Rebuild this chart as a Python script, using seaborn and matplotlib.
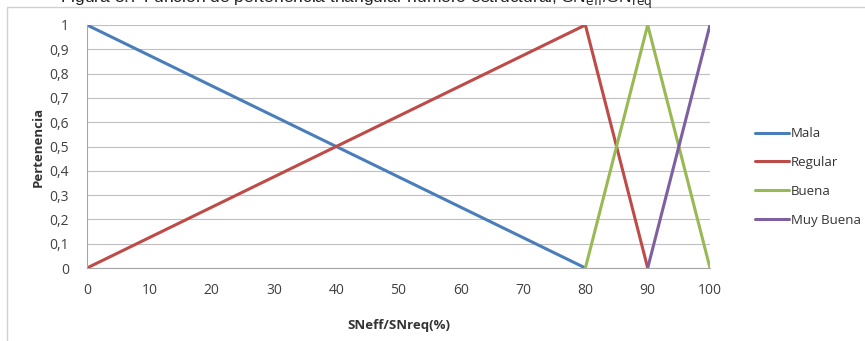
import matplotlib
matplotlib.use("Agg")
import matplotlib.pyplot as plt
from matplotlib.patches import Rectangle
import seaborn as sns
import pandas as pd

# Membership functions (triangular) for SNeff/SNreq
mala_x = [0, 80]
mala_y = [1, 0]
regular_x = [0, 80, 90]
regular_y = [0, 1, 0]
buena_x = [80, 90, 100]
buena_y = [0, 1, 0]
muy_buena_x = [90, 100]
muy_buena_y = [0, 1]

series_names = ["Mala", "Regular", "Buena", "Muy Buena"]
series_colors = ["#4A7EBB", "#BE4B48", "#98B954", "#7D60A0"]

x_ticks = [0, 10, 20, 30, 40, 50, 60, 70, 80, 90, 100]
y_ticks = [0, 0.1, 0.2, 0.3, 0.4, 0.5, 0.6, 0.7, 0.8, 0.9, 1.0]
y_tick_labels = ["0", "0,1", "0,2", "0,3", "0,4", "0,5", "0,6", "0,7", "0,8", "0,9", "1"]

frames = []
for name, xs, ys in zip(series_names,
                        [mala_x, regular_x, buena_x, muy_buena_x],
                        [mala_y, regular_y, buena_y, muy_buena_y]):
    frames.append(pd.DataFrame({"x": xs, "y": ys, "serie": name}))
df = pd.concat(frames, ignore_index=True)

sns.set_theme(style="white")
plt.rcParams["font.family"] = ["Open Sans", "DejaVu Sans"]

W, H = 865, 341
fig = plt.figure(figsize=(W / 100, H / 100), dpi=100)
fig.patch.set_facecolor("white")

# chart area border
fig.add_artist(Rectangle((7 / W, -0.02), 1.0, 1 - 7 / H + 0.02,
                         transform=fig.transFigure, fill=False,
                         edgecolor="#D0D0D0", linewidth=1.0))

# caption above the chart (runs off the top edge)
fig.text(652 / W, 1 - 3 / H,
         "Figura 3.7 Función de pertenencia triangular número estructural, SN$_{\\mathrm{eff}}$/SN$_{\\mathrm{req}}$",
         ha="right", va="baseline", fontsize=12.5, color="#222222",
         family=["Liberation Sans", "DejaVu Sans"])

ax = fig.add_axes([87 / W, 1 - 268 / H, (710 - 87) / W, (268 - 25) / H])
sns.lineplot(data=df, x="x", y="y", hue="serie", hue_order=series_names,
             palette=series_colors, linewidth=2.2, sort=False,
             estimator=None, ax=ax)

ax.set_xlim(0, 100)
ax.set_ylim(0, 1)
ax.set_xticks(x_ticks)
ax.set_xticklabels([str(t) for t in x_ticks])
ax.set_yticks(y_ticks)
ax.set_yticklabels(y_tick_labels)
ax.tick_params(axis="both", labelsize=10, colors="#404040", length=0, pad=11)
ax.tick_params(axis="y", pad=13)
ax.grid(axis="y", color="#BFBFBF", linewidth=0.8)
ax.set_axisbelow(True)
for side in ["top", "right"]:
    ax.spines[side].set_visible(False)
for side in ["left", "bottom"]:
    ax.spines[side].set_color("#A6A6A6")
    ax.spines[side].set_linewidth(0.8)

ax.set_xlabel("SNeff/SNreq(%)", fontsize=9.5, fontweight="bold", color="#333333", labelpad=15)
ax.set_ylabel("Pertenencia", fontsize=9.5, fontweight="bold", color="#333333", labelpad=3)

leg = ax.legend(loc="center left", bbox_to_anchor=(743 / W, 1 - 177 / H), bbox_transform=fig.transFigure,
                frameon=False, fontsize=9.5, handlelength=2.6, handletextpad=0.15,
                labelspacing=1.2)
for line in leg.get_lines():
    line.set_linewidth(2.2)
for t in leg.get_texts():
    t.set_color("#333333")

fig.savefig("out.png", dpi=100)
